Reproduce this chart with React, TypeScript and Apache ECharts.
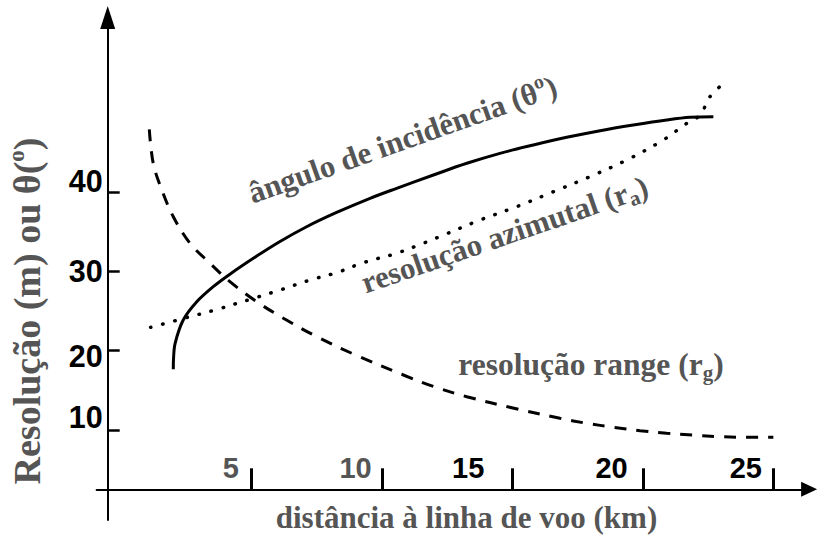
import React, { useEffect, useRef } from 'react';
import * as echarts from 'echarts';

// ---- data ----
const xTicks = [5, 10, 15, 20, 25];
const yTicks = [10, 20, 30, 40];

// ângulo de incidência (solid)
const incidenceX = [2.0, 2.01, 2.07, 2.38, 2.9, 3.53, 4.17, 5.2, 6.09, 7.11, 8.26, 9.54, 10.56, 11.97, 13.25, 14.52, 15.8, 17.08, 18.36, 19.63, 20.91, 21.81, 22.7];
const incidenceY = [17.64, 19.07, 20.92, 23.86, 26.17, 28.07, 29.65, 31.94, 33.78, 35.64, 37.44, 39.23, 40.49, 42.17, 43.65, 44.91, 45.96, 46.93, 47.77, 48.48, 49.12, 49.46, 49.53];

// resolução azimutal (dotted)
const azimuthX = [1.13, 2.64, 3.6, 5.07, 6.09, 7.24, 8.26, 9.28, 10.56, 11.58, 12.22, 13.76, 15.16, 16.57, 17.97, 19.38, 20.78, 21.68, 22.19, 22.57, 23.02];
const azimuthY = [22.94, 24.28, 25.13, 26.6, 27.65, 28.91, 29.84, 31.1, 32.29, 33.55, 34.4, 36.49, 38.17, 40.06, 41.96, 44.07, 46.59, 48.7, 49.75, 52.06, 53.54];

// resolução range (dashed)
const rangeX = [1.08, 1.23, 1.56, 2.0, 2.64, 3.41, 4.17, 5.2, 6.22, 7.5, 9.03, 10.82, 11.97, 13.25, 15.1, 16.82, 17.85, 18.87, 19.89, 20.91, 21.93, 22.95, 23.98, 25.0];
const rangeY = [47.94, 43.65, 40.28, 36.91, 33.55, 31.02, 28.7, 26.17, 24.08, 21.76, 19.38, 16.92, 15.47, 14.18, 12.69, 11.45, 10.82, 10.32, 9.89, 9.56, 9.34, 9.13, 9.05, 9.05];

const xTitle = 'distância à linha de voo (km)';
const yTitleMain = 'Resolução (m) ou θ(';
const incidenceLabel = 'ângulo de incidência (θ';
const azimuthLabel = 'resolução azimutal (r';
const rangeLabel = 'resolução range (r';

const zip = (xs: number[], ys: number[]) => xs.map((x, i) => [x, ys[i]]);

const SERIF = 'Liberation Serif, Times New Roman, serif';
const SANS = 'Liberation Sans, Arial, Helvetica, sans-serif';
const GRAY = '#555555';

const serifFont = (size: number) => `bold ${size}px ${SERIF}`;

const serifTok = (size: number, extra: any = {}) => ({
  font: serifFont(size),
  fontSize: size,
  fontWeight: 'bold',
  fontFamily: SERIF,
  fill: GRAY,
  ...extra,
});

const richText = (
  x: number,
  y: number,
  rot: number,
  size: number,
  main: string,
  small: string,
  smallSize: number,
  smallPad: number[],
) => ({
  type: 'text',
  x,
  y,
  rotation: (rot * Math.PI) / 180,
  silent: true,
  style: {
    text: `{t|${main}}{s|${small}}{t|)}`,
    font: serifFont(size),
    fill: GRAY,
    rich: { t: serifTok(size), s: serifTok(smallSize, { padding: smallPad }) },
    align: 'center',
    verticalAlign: 'middle',
  },
});

export default function App() {
  const ref = useRef<HTMLDivElement>(null);

  useEffect(() => {
    if (!ref.current) return;
    const chart = echarts.init(ref.current, null, { renderer: 'svg' });

    const sansBold = (size: number, color: string, padding: number[]) => ({
      fontSize: size,
      fontWeight: 'bold',
      fontFamily: SANS,
      color,
      padding,
      lineHeight: 30,
    });

    const line = (name: string, data: number[][], lineStyle: any) => ({
      name,
      type: 'line',
      data,
      smooth: 0.35,
      showSymbol: false,
      symbol: 'none',
      clip: false,
      silent: true,
      lineStyle,
    });

    const option: any = {
      animation: false,
      backgroundColor: '#ffffff',
      grid: {
        left: 96.6,
        right: 8.9,
        top: 17.5,
        bottom: 19,
        containLabel: false,
        outerBoundsMode: 'none',
      },
      xAxis: {
        type: 'value',
        min: -0.94,
        max: 26.37,
        offset: -30.7,
        splitLine: { show: false },
        axisLine: {
          show: true,
          onZero: false,
          symbol: ['none', 'triangle'],
          symbolSize: [15, 16],
          lineStyle: { color: '#000', width: 2 },
        },
        axisTick: {
          show: true,
          inside: true,
          length: 21,
          customValues: xTicks,
          lineStyle: { color: '#000', width: 3 },
        },
        axisLabel: {
          show: true,
          inside: true,
          align: 'right',
          margin: 6,
          fontSize: 29,
          fontWeight: 'bold',
          fontFamily: SANS,
          customValues: xTicks,
          formatter: (v: number) => `{x${v}|${v}}`,
          rich: {
            x5: sansBold(29, GRAY, [0, 12.6, 0, 0]),
            x10: sansBold(29, GRAY, [0, 10.3, 0, 0]),
            x15: sansBold(29, '#000', [0, 28.2, 0, 0]),
            x20: sansBold(29, '#000', [0, 15.2, 0, 0]),
            x25: sansBold(29, '#000', [0, 11.4, 0, 0]),
          },
        },
      },
      yAxis: {
        type: 'value',
        min: -1.39,
        max: 62.06,
        offset: -11.1,
        splitLine: { show: false },
        axisLine: {
          show: true,
          onZero: false,
          symbol: ['none', 'triangle'],
          symbolSize: [15, 23],
          lineStyle: { color: '#000', width: 2 },
        },
        axisTick: {
          show: true,
          inside: true,
          length: 12,
          customValues: yTicks,
          lineStyle: { color: '#000', width: 2.5 },
        },
        axisLabel: {
          show: true,
          margin: 5,
          fontSize: 30.5,
          fontWeight: 'bold',
          fontFamily: SANS,
          customValues: yTicks,
          formatter: (v: number) => `{y${v}|${v}}`,
          rich: {
            y10: sansBold(30.5, '#000', [0, 0, 25, 0]),
            y20: sansBold(30.5, '#000', [10, 0, 0, 0]),
            y30: sansBold(30.5, '#000', [0, 0, 0, 0]),
            y40: sansBold(30.5, '#000', [0, 0, 22, 0]),
          },
        },
      },
      series: [
        line('ângulo de incidência', zip(incidenceX, incidenceY), { color: '#000', width: 3 }),
        line('resolução azimutal', zip(azimuthX, azimuthY), {
          color: '#000',
          width: 3.5,
          type: [0.5, 12],
          cap: 'round',
        }),
        line('resolução range', zip(rangeX, rangeY), { color: '#000', width: 3, type: [12, 10] }),
      ],
      graphic: [
        {
          type: 'text',
          x: 466.5,
          y: 517,
          silent: true,
          style: {
            text: xTitle,
            font: serifFont(31),
            fill: GRAY,
            align: 'center',
            verticalAlign: 'middle',
          },
        },
        richText(27, 311, 90, 38, yTitleMain, 'o', 23, [0, 0, 22, 0]),
        richText(402.5, 139.5, 19.5, 31, incidenceLabel, 'o', 20, [0, 0, 19, 0]),
        richText(504.6, 234.5, 19, 31, azimuthLabel, 'a', 21, [16, 0, 0, 0]),
        richText(591, 364.5, 0, 31.5, rangeLabel, 'g', 21, [16, 0, 0, 0]),
      ],
    };

    chart.setOption(option);
    return () => chart.dispose();
  }, []);

  return (
    <div
      ref={ref}
      style={{ position: 'fixed', left: 0, top: 0, width: 818, height: 539, background: '#fff' }}
    />
  );
}
